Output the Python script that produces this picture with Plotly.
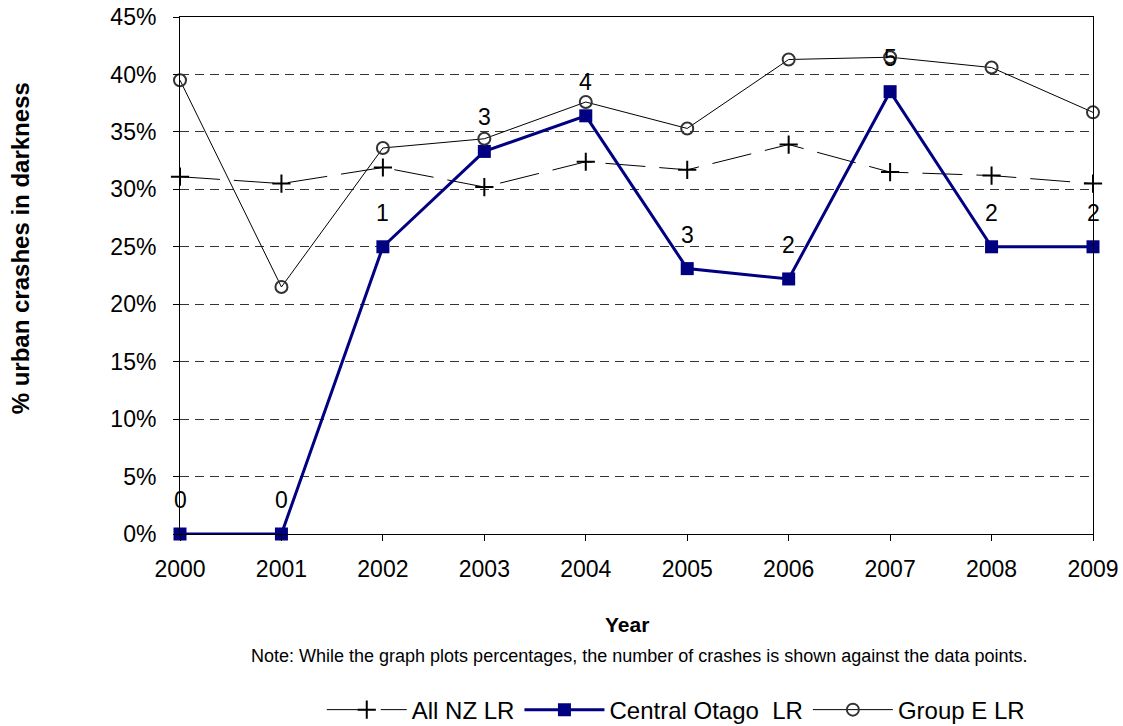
import plotly.graph_objects as go

# Years and series (% of urban crashes occurring in darkness)
years = [2000, 2001, 2002, 2003, 2004, 2005, 2006, 2007, 2008, 2009]
all_nz_lr = [31.1, 30.5, 31.9, 30.2, 32.4, 31.7, 33.9, 31.5, 31.2, 30.5]
central_otago_lr = [0.0, 0.0, 25.0, 33.3, 36.4, 23.1, 22.2, 38.5, 25.0, 25.0]
group_e_lr = [39.5, 21.5, 33.6, 34.4, 37.6, 35.3, 41.3, 41.5, 40.6, 36.7]
# Number of crashes behind each Central Otago point
central_otago_counts = [0, 0, 1, 3, 4, 3, 2, 5, 2, 2]

FONT = "Liberation Sans, Arial, sans-serif"

fig = go.Figure()

fig.add_trace(go.Scatter(
    x=years, y=all_nz_lr, name="All NZ LR", mode="lines+markers",
    line=dict(color="black", width=1, dash="40px,14px"),
    marker=dict(symbol="cross-thin", size=13, line=dict(color="black", width=2)),
    cliponaxis=False,
))
fig.add_trace(go.Scatter(
    x=years, y=central_otago_lr, name="Central Otago  LR", mode="lines+markers",
    line=dict(color="#000080", width=3),
    marker=dict(symbol="square", size=13, color="#000080"),
    cliponaxis=False,
))
fig.add_trace(go.Scatter(
    x=years, y=group_e_lr, name="Group E LR", mode="lines+markers",
    line=dict(color="black", width=1),
    marker=dict(symbol="circle-open", size=12, color="#333333", line=dict(width=2)),
    cliponaxis=False,
))

# Crash counts written above the Central Otago points
for yr, val, n in zip(years, central_otago_lr, central_otago_counts):
    fig.add_annotation(x=yr, y=val, text=str(n), showarrow=False, yshift=34,
                       font=dict(size=23, color="black", family=FONT))

fig.add_annotation(x=0.49, y=-0.176, xref="paper", yref="paper", text="<b>Year</b>",
                   xanchor="center", yanchor="middle",
                   showarrow=False, font=dict(size=21, color="black", family=FONT))
fig.add_annotation(x=0.503, y=-0.236, xref="paper", yref="paper",
                   xanchor="center", yanchor="middle",
                   text="Note: While the graph plots percentages, the number of crashes is shown against the data points.",
                   showarrow=False, font=dict(size=18, color="black", family=FONT))
fig.add_annotation(x=-0.175, y=0.553, xref="paper", yref="paper", textangle=-90,
                   xanchor="center", yanchor="middle",
                   text="<b>% urban crashes in darkness</b>",
                   showarrow=False, font=dict(size=24, color="black", family=FONT))

fig.update_layout(
    width=1123, height=726,
    margin=dict(l=180, r=30, t=17, b=192, autoexpand=False),
    paper_bgcolor="white", plot_bgcolor="white",
    font=dict(family=FONT, size=23, color="black"),
    showlegend=True,
    legend=dict(orientation="h", x=0.543, xanchor="center",
                yref="container", y=0.022, yanchor="middle",
                font=dict(size=24), itemwidth=80, traceorder="normal"),
    xaxis=dict(
        range=[2000, 2009], tickmode="array", tickvals=years,
        showgrid=False, zeroline=False, automargin=False,
        showline=True, linecolor="black", linewidth=1, mirror=True,
        ticks="outside", ticklen=6, tickcolor="black",
        ticklabelstandoff=8,
        tickfont=dict(size=23),
    ),
    yaxis=dict(
        range=[0, 45], dtick=5, ticksuffix="%",
        showgrid=True, gridcolor="#333333", gridwidth=1, griddash="9px,6px",
        zeroline=False, automargin=False,
        showline=True, linecolor="black", linewidth=1, mirror=True,
        ticks="outside", ticklen=6, tickcolor="black",
        ticklabelstandoff=12,
        tickfont=dict(size=23),
    ),
)

fig.write_html("out.html")
